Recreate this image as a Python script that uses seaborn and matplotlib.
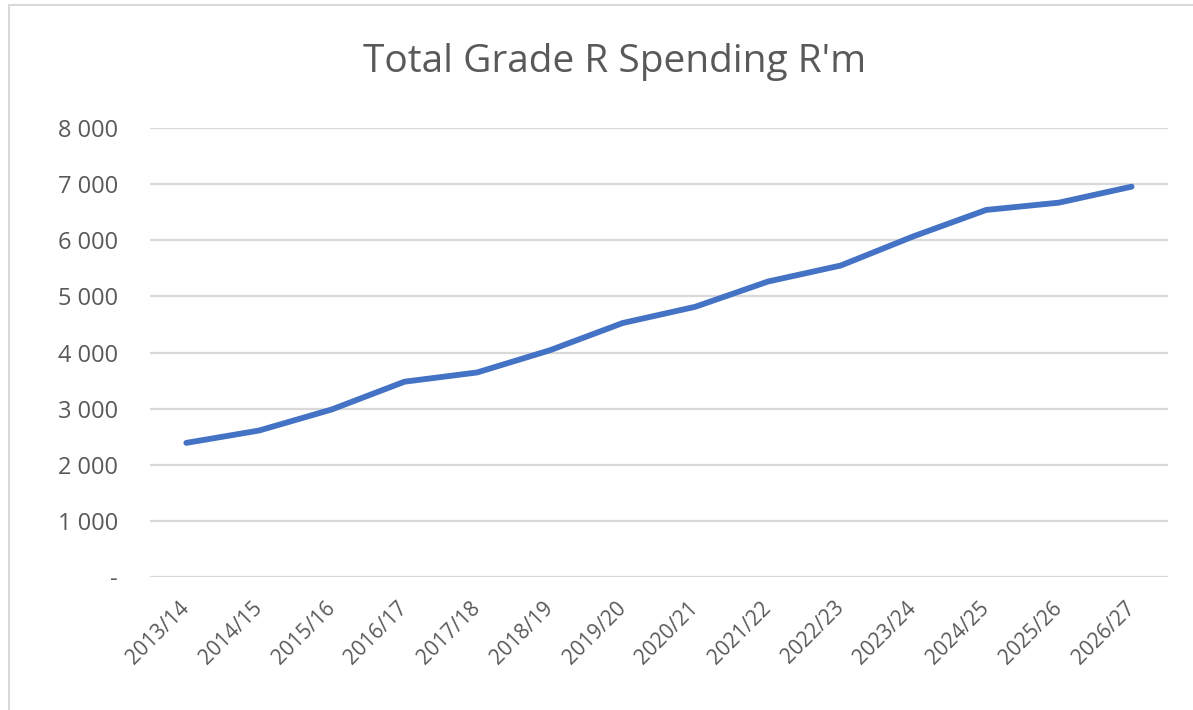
import matplotlib
matplotlib.use('Agg')
import matplotlib.pyplot as plt
import matplotlib.ticker as mticker
import seaborn as sns
import pandas as pd
from matplotlib.lines import Line2D

years = ['2013/14', '2014/15', '2015/16', '2016/17', '2017/18', '2018/19', '2019/20',
         '2020/21', '2021/22', '2022/23', '2023/24', '2024/25', '2025/26', '2026/27']
spending = [2390, 2610, 2985, 3480, 3645, 4040, 4525, 4815, 5265, 5550, 6070, 6540, 6670, 6955]
y_ticks = [0, 1000, 2000, 3000, 4000, 5000, 6000, 7000, 8000]

df = pd.DataFrame({'year': years, 'spend': spending})
df['pos'] = range(len(years))

sns.set_style('white')
plt.rcParams['font.family'] = ['Open Sans', 'DejaVu Sans']

fig = plt.figure(figsize=(11.93, 7.10), dpi=100)
ax = fig.add_axes([0.1257, 0.1873, 0.8533, 0.6324])

sns.lineplot(data=df, x='pos', y='spend', ax=ax, color='#4472C4', linewidth=4.2,
             solid_capstyle='round', solid_joinstyle='round')

ax.set_xlim(-0.5, len(years) - 0.5)
ax.set_ylim(0, 8000)
ax.set_xticks(df['pos'])
ax.set_xticklabels(years, rotation=45, ha='right', va='center', rotation_mode='anchor',
                   fontsize=15, color='#595959')
ax.set_yticks(y_ticks)

def fmt(v, p):
    if v == 0:
        return '-'
    return f'{int(v):,}'.replace(',', ' ')

ax.yaxis.set_major_formatter(mticker.FuncFormatter(fmt))
ax.tick_params(axis='y', labelsize=17, labelcolor='#595959', length=0, pad=23)
ax.tick_params(axis='x', length=0, pad=20)
ax.grid(axis='y', color='#D9D9D9', linewidth=1.6)
ax.set_axisbelow(True)
for s in ax.spines.values():
    s.set_visible(False)
ax.set_xlabel('')
ax.set_ylabel('')

fig.text(0.515, 0.913, "Total Grade R Spending R'm", ha='center', va='center',
         fontsize=28, color='#595959')

# chart frame (left and top edges visible)
fig.add_artist(Line2D([0.0075, 0.0075], [0, 0.993], color='#D9D9D9', linewidth=1.5))
fig.add_artist(Line2D([0.0075, 1.0], [0.993, 0.993], color='#D9D9D9', linewidth=1.5))

fig.savefig('out.png', dpi=100, facecolor='white')
